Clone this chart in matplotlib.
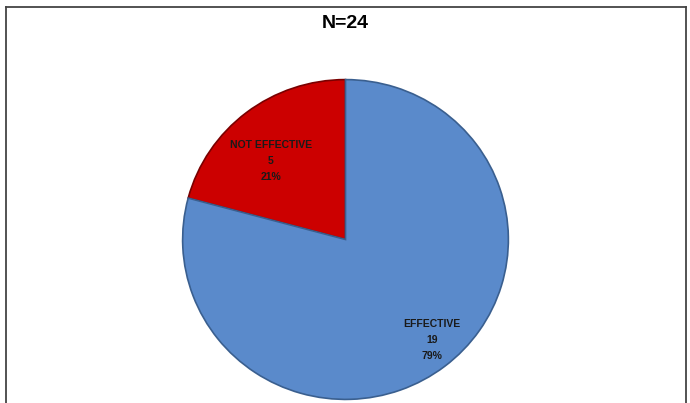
import matplotlib
matplotlib.use('Agg')
import matplotlib.pyplot as plt
from matplotlib.lines import Line2D

# Données
categories = ['NOT EFFECTIVE', 'EFFECTIVE']
valeurs = [5, 19]
pourcentages = ['21%', '79%']
couleurs = ['#CC0000', '#5A8ACB']
titre = 'N=24'

police = ['Liberation Sans Narrow', 'Liberation Sans', 'DejaVu Sans']

fig = plt.figure(figsize=(6.9, 4.03), dpi=100)

# Cadre (gauche, haut, droite)
W, H = 690, 403
for (x0, y0, x1, y1) in [(6, 403, 6, 7), (6, 7, 686, 7), (686, 7, 686, 403)]:
    fig.add_artist(Line2D([x0 / W, x1 / W], [1 - y0 / H, 1 - y1 / H],
                          color='#444444', lw=1.3, transform=fig.transFigure))

fig.text(0.5, 1 - 23 / H, titre, ha='center', va='center',
         fontsize=14, fontweight='bold', family=police)

# Camembert légèrement aplati, comme dans l'original
ax = fig.add_axes([181 / W, 1 - 401 / H, 329 / W, 323 / H])
ax.pie(valeurs, colors=couleurs, startangle=90, counterclock=True,
       wedgeprops=dict(edgecolor='#3a5f8f', linewidth=1.2))
ax.patches[0].set_edgecolor('#7a0000')
ax.set_aspect('auto')
ax.set_xlim(-1.01, 1.01)
ax.set_ylim(-1.01, 1.01)

positions = [(-0.46, 0.49), (0.53, -0.63)]
for cat, v, p, (x, y) in zip(categories, valeurs, pourcentages, positions):
    ax.text(x, y, f'{cat}\n{v}\n{p}', ha='center', va='center',
            fontsize=7.5, fontweight='bold', family=police,
            color='#1a1a1a', linespacing=1.75)

plt.savefig('out.png', dpi=100)
